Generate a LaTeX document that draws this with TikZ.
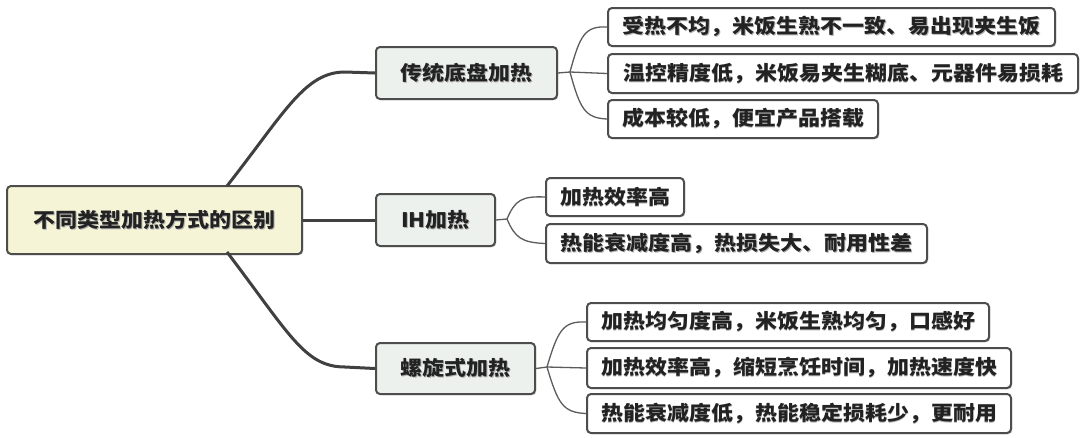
\documentclass[tikz,border=0pt]{standalone}
\usepackage{fontspec}
\setmainfont{Noto Sans CJK SC}[FakeStretch=1.1]
\usetikzlibrary{shadows}
\definecolor{rootfill}{HTML}{F6F4D6}
\definecolor{brfill}{HTML}{EDF1EE}
\definecolor{bordc}{HTML}{4D4D4D}
\definecolor{txtc}{HTML}{222222}
\definecolor{thickc}{HTML}{404040}
\definecolor{thinc}{HTML}{5C5C5C}
\newcommand\tsh[1]{\leavevmode\rlap{\kern0.9pt\raisebox{-0.9pt}{\textcolor{black!30}{#1}}}#1}
\tikzset{
  boxbase/.style={draw=bordc, line width=2pt, rounded corners=4pt, anchor=north west,
    inner sep=0pt, text=txtc, font=\fontsize{20}{20}\selectfont\bfseries,
    drop shadow={shadow xshift=1.2pt, shadow yshift=-1.2pt, fill=black!22, opacity=1}},
  rootbox/.style={boxbase, fill=rootfill},
  brbox/.style={boxbase, fill=brfill},
  leafbox/.style={boxbase, fill=white},
  thickline/.style={draw=thickc, line width=3pt},
  thinline/.style={draw=thinc, line width=1.3pt},
}
\begin{document}
\begin{tikzpicture}[x=1pt, y=-1pt]
\useasboundingbox (0,0) rectangle (1080,437);
\fill[white] (0,0) rectangle (1080,437);
% fork points
\coordinate (r1) at (227,186);
\coordinate (r3) at (227,252);
\coordinate (f1) at (570,72);
\coordinate (f2) at (507,219);
\coordinate (f3) at (547,367);
% nodes
\node[rootbox, minimum width=295pt, minimum height=68pt] (R) at (6,185) {\tsh{不同类型加热方式的区别}};
\node[brbox, minimum width=181pt, minimum height=52pt] (B1) at (375,46) {\tsh{传统底盘加热}};
\node[brbox, minimum width=119pt, minimum height=52pt] (B2) at (375,193) {\tsh{IH加热}};
\node[brbox, minimum width=159pt, minimum height=51pt] (B3) at (375,342) {\tsh{螺旋式加热}};
\node[leafbox, minimum width=447pt, minimum height=38pt] (L11) at (607,7) {\tsh{受热不均，米饭生熟不一致、易出现夹生饭}};
\node[leafbox, minimum width=470pt, minimum height=39pt] (L12) at (607,53) {\tsh{温控精度低，米饭易夹生糊底、元器件易损耗}};
\node[leafbox, minimum width=270pt, minimum height=38pt] (L13) at (607,99) {\tsh{成本较低，便宜产品搭载}};
\node[leafbox, minimum width=138pt, minimum height=38pt] (L21) at (545,177) {\tsh{加热效率高}};
\node[leafbox, minimum width=381pt, minimum height=39pt] (L22) at (545,223) {\tsh{热能衰减度高，热损失大、耐用性差}};
\node[leafbox, minimum width=402pt, minimum height=38pt] (L31) at (586,302) {\tsh{加热均匀度高，米饭生熟均匀，口感好}};
\node[leafbox, minimum width=424pt, minimum height=40pt] (L32) at (586,347) {\tsh{加热效率高，缩短烹饪时间，加热速度快}};
\node[leafbox, minimum width=424pt, minimum height=39pt] (L33) at (586,393) {\tsh{热能衰减度低，热能稳定损耗少，更耐用}};
% thick connectors
\draw[thickline] (R.east) -- (B2.west);
\draw[thickline] (r1) .. controls (285,112) and (305,72) .. (345,72) -- (B1.west);
\draw[thickline] (r3) .. controls (290,335) and (305,367) .. (345,367) -- (B3.west);
% thin connectors
\draw[thinline] (B1.east) -- (f1) -- (L12.west);
\draw[thinline] (f1) .. controls (580,35) and (585,26) .. (L11.west);
\draw[thinline] (f1) .. controls (580,109) and (585,118) .. (L13.west);
\draw[thinline] (B2.east) -- (f2);
\draw[thinline] (f2) .. controls (515,200) and (522,196) .. (L21.west);
\draw[thinline] (f2) .. controls (515,238) and (522,242.5) .. (L22.west);
\draw[thinline] (B3.east) -- (f3) -- (L32.west);
\draw[thinline] (f3) .. controls (558,330) and (563,321) .. (L31.west);
\draw[thinline] (f3) .. controls (558,404) and (563,412.5) .. (L33.west);
\end{tikzpicture}
\end{document}
